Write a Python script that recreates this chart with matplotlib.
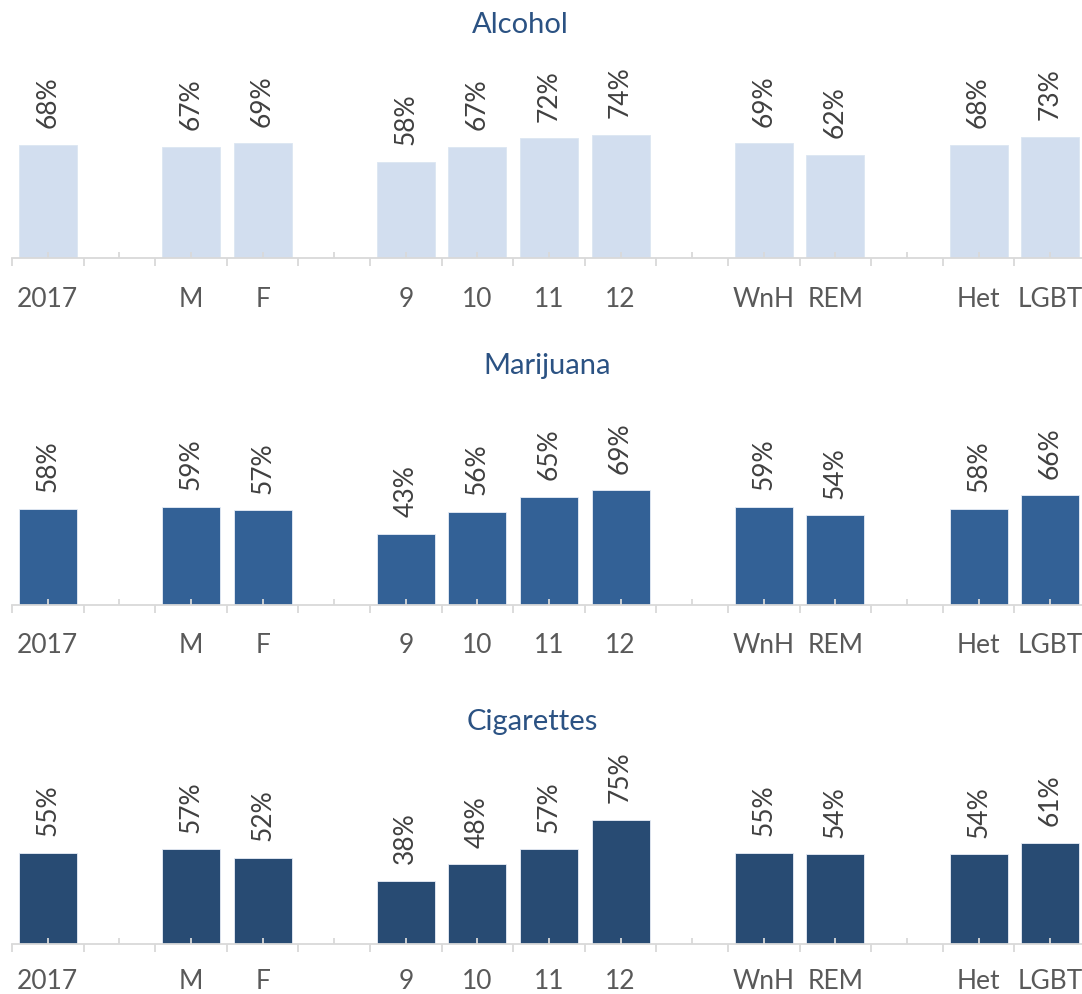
import matplotlib
matplotlib.use("Agg")
import matplotlib.pyplot as plt
from matplotlib.ticker import FixedLocator, NullFormatter

# ---- data -------------------------------------------------------------
groups = [["2017"], ["M", "F"], ["9", "10", "11", "12"], ["WnH", "REM"], ["Het", "LGBT"]]
substances = ["Alcohol", "Marijuana", "Cigarettes"]
alcohol = [68, 67, 69, 58, 67, 72, 74, 69, 62, 68, 73]
marijuana = [58, 59, 57, 43, 56, 65, 69, 59, 54, 58, 66]
cigarettes = [55, 57, 52, 38, 48, 57, 75, 55, 54, 54, 61]
series = [alcohol, marijuana, cigarettes]
bar_colors = ["#D2DEEF", "#336196", "#284B73"]

# ---- slot layout: one empty slot between consecutive groups -----------
slot_labels = []
for gi, g in enumerate(groups):
    if gi > 0:
        slot_labels.append("")
    slot_labels.extend(g)
bar_slots = [i for i, s in enumerate(slot_labels) if s]
n_slots = len(slot_labels)

W, H = 1082, 994
fig = plt.figure(figsize=(W / 100, H / 100), dpi=100)
plt.rcParams["font.family"] = ["Lato", "DejaVu Sans"]

axis_gray = "#D9D9D9"
label_gray = "#595959"
value_gray = "#404040"
title_blue = "#2B5283"

baselines = [258, 605, 944]      # px from top
title_y = [25, 366, 722]
title_x = [520, 547, 532]
scale = 1.66                      # px per percentage point
left_px, right_px = 12, 1086
label_pads = [21, 20, 18]

for k, (name, vals, col) in enumerate(zip(substances, series, bar_colors)):
    h_px = 100 * scale
    ax = fig.add_axes([left_px / W, 1 - baselines[k] / H,
                       (right_px - left_px) / W, h_px / H])
    ax.bar(bar_slots, vals, width=0.81, color=col,
           edgecolor="#E8EEF7" if k else "#DCE6F2", linewidth=0.6, zorder=1)
    for x, v in zip(bar_slots, vals):
        ax.annotate(f"{v}%", (x, v), xytext=(0, 12), textcoords="offset points",
                    rotation=90, ha="center", va="bottom", fontsize=19,
                    color=value_gray, annotation_clip=False)
    ax.set_xlim(-0.5, n_slots - 0.5)
    ax.set_ylim(0, 100)
    for s in ("left", "right", "top"):
        ax.spines[s].set_visible(False)
    ax.spines["bottom"].set_color(axis_gray)
    ax.spines["bottom"].set_linewidth(1.3)
    ax.set_yticks([])
    ax.xaxis.set_major_locator(FixedLocator(range(n_slots)))
    ax.set_xticklabels(slot_labels)
    ax.xaxis.set_minor_locator(FixedLocator([i - 0.5 for i in range(n_slots + 1)]))
    ax.xaxis.set_minor_formatter(NullFormatter())
    ax.tick_params(axis="x", which="major", direction="in", length=4.5,
                   width=1.3, color=axis_gray, labelsize=19, labelcolor=label_gray,
                   pad=label_pads[k])
    ax.tick_params(axis="x", which="minor", direction="out", length=6,
                   width=1.3, color=axis_gray)
    fig.text(title_x[k] / W, 1 - title_y[k] / H, name, ha="center", va="center",
             fontsize=21, color=title_blue)

fig.savefig("out.png", dpi=100)
